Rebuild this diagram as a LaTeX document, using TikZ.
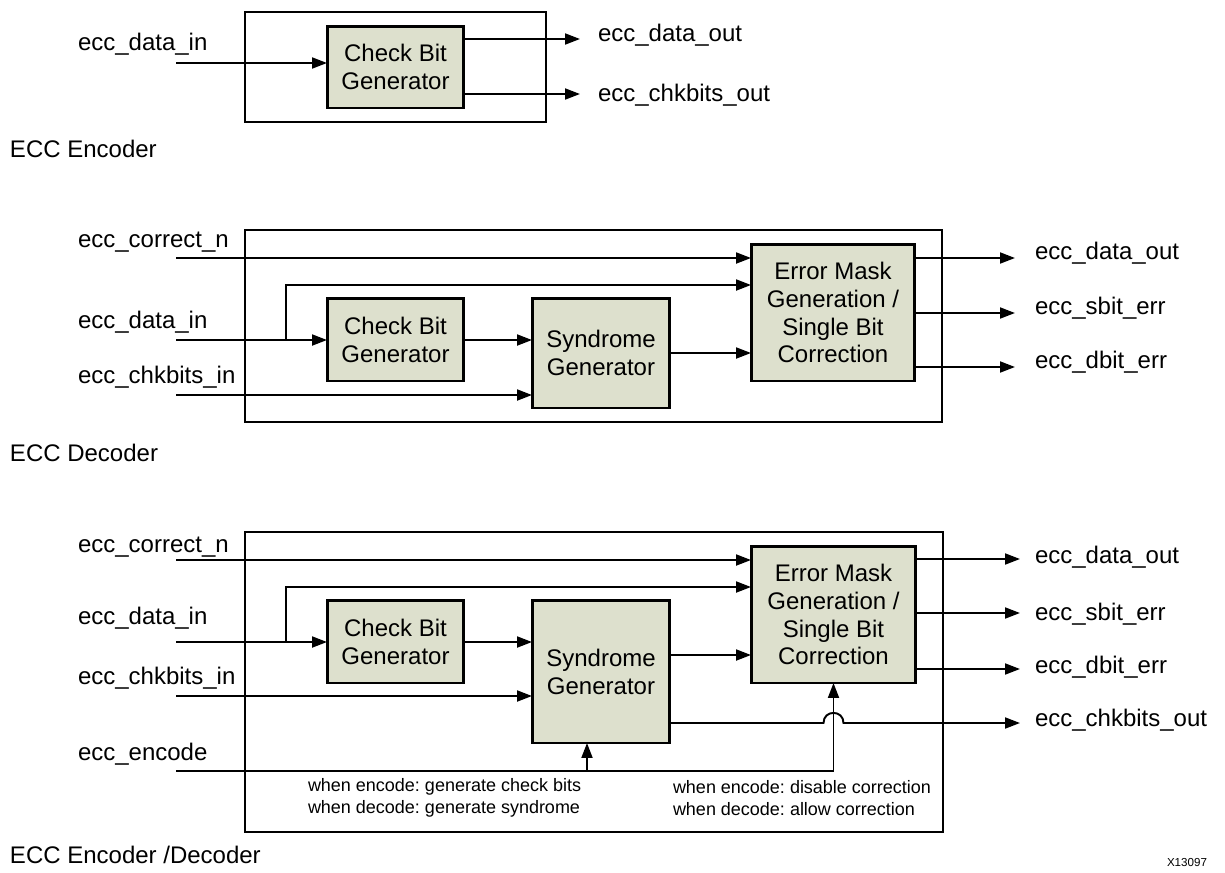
\documentclass[tikz,border=0pt]{standalone}
\usepackage{fontspec}
\setmainfont{Liberation Sans}
\usetikzlibrary{arrows.meta}
\definecolor{blkfill}{RGB}{221,224,205}
\frenchspacing
\begin{document}
\begin{tikzpicture}[x=0.02cm,y=-0.02cm,inner sep=0pt,outer sep=0pt,line width=1.1pt,
>={Triangle[length=0.3cm,width=0.22cm]},
funcblock/.style={draw,rectangle,fill=blkfill,line width=1.7pt,align=center,font=\fontsize{13.66}{15.9}\selectfont},
sig/.style={anchor=west,font=\fontsize{13.66}{15.9}\selectfont},
note/.style={anchor=west,align=left,font=\fontsize{10.24}{12.5}\selectfont}]
\useasboundingbox (0,0) rectangle (1225,873);
% encoder
\draw (245,12) rectangle (546,122);
\draw (395.5,67) node[funcblock,minimum width=2.74cm,minimum height=1.64cm] (cbgA) {Check Bit\\Generator};
\draw (78,44) node[sig] (dinA) {ecc\_data\_in};
\draw (598,35) node[sig] (doutA) {ecc\_data\_out};
\draw (598,95) node[sig] (cboutA) {ecc\_chkbits\_out};
\draw (10,149) node[sig] (capA) {ECC Encoder};
\coordinate (dinAs) at (176,63);
\coordinate (doutAe) at (580,39);
\coordinate (cboutAe) at (580,94);
\draw[->] (dinAs) -- (dinAs -| cbgA.west);
\draw[->] (doutAe -| cbgA.east) -- (doutAe);
\draw[->] (cboutAe -| cbgA.east) -- (cboutAe);
% decoder
\draw (245,230) rectangle (942,422);
\draw (395.5,339.5) node[funcblock,minimum width=2.74cm,minimum height=1.66cm] (cbgB) {Check Bit\\Generator};
\draw (601,353) node[funcblock,minimum width=2.76cm,minimum height=2.2cm] (synB) {Syndrome\\Generator};
\draw (833,312.5) node[funcblock,minimum width=3.28cm,minimum height=2.74cm] (emgB) {Error Mask\\Generation /\\Single Bit\\Correction};
\draw (78,242) node[sig] (corrB) {ecc\_correct\_n};
\draw (78,322) node[sig] (dinB) {ecc\_data\_in};
\draw (78,377) node[sig] (cbinB) {ecc\_chkbits\_in};
\draw (1035,253) node[sig] (doutB) {ecc\_data\_out};
\draw (1035,308) node[sig] (sbitB) {ecc\_sbit\_err};
\draw (1035,362) node[sig] (dbitB) {ecc\_dbit\_err};
\draw (10,453) node[sig] (capB) {ECC Decoder};
\coordinate (corrBs) at (176,258);
\coordinate (dinBs) at (176,340);
\coordinate (brB) at (286,340);
\coordinate (brBt) at (286,285);
\coordinate (cbinBs) at (176,395);
\coordinate (doutBe) at (1015,258);
\coordinate (sbitBe) at (1015,313);
\coordinate (dbitBe) at (1015,367);
\draw[->] (corrBs) -- (corrBs -| emgB.west);
\draw[->] (dinBs) -- (dinBs -| cbgB.west);
\draw[->] (brB) -- (brBt) -- (brBt -| emgB.west);
\draw[->] (cbgB.east |- dinBs) -- (synB.west |- dinBs);
\draw[->] (cbinBs) -- (cbinBs -| synB.west);
\draw[->] (synB.east) -- (synB.east -| emgB.west);
\draw[->] (doutBe -| emgB.east) -- (doutBe);
\draw[->] (sbitBe -| emgB.east) -- (sbitBe);
\draw[->] (dbitBe -| emgB.east) -- (dbitBe);
% encoder / decoder
\draw (245,532) rectangle (943,832);
\draw (395.5,641.5) node[funcblock,minimum width=2.74cm,minimum height=1.66cm] (cbgC) {Check Bit\\Generator};
\draw (601,671.5) node[funcblock,minimum width=2.76cm,minimum height=2.86cm] (synC) {Syndrome\\Generator};
\draw (833.5,614.5) node[funcblock,minimum width=3.3cm,minimum height=2.74cm] (emgC) {Error Mask\\Generation /\\Single Bit\\Correction};
\draw (78,547) node[sig] (corrC) {ecc\_correct\_n};
\draw (78,618) node[sig] (dinC) {ecc\_data\_in};
\draw (78,678) node[sig] (cbinC) {ecc\_chkbits\_in};
\draw (78,754) node[sig] (encC) {ecc\_encode};
\draw (1035,557) node[sig] (doutC) {ecc\_data\_out};
\draw (1035,614) node[sig] (sbitC) {ecc\_sbit\_err};
\draw (1035,667) node[sig] (dbitC) {ecc\_dbit\_err};
\draw (1035,720) node[sig] (cboutC) {ecc\_chkbits\_out};
\draw (308,798) node[note] (noteL) {when encode: generate check bits\\when decode: generate syndrome};
\draw (673,798) node[note] (noteR) {when encode: disable correction\\when decode: allow correction};
\draw (10,855) node[sig] (capC) {ECC Encoder /Decoder};
\draw (1167,862) node[anchor=west,font=\fontsize{6.6}{8}\selectfont] (figid) {X13097};
\coordinate (corrCs) at (176,560);
\coordinate (dinCs) at (176,642);
\coordinate (brC) at (286,642);
\coordinate (brCt) at (286,587);
\coordinate (cbinCs) at (176,696);
\coordinate (encCs) at (176,771);
\coordinate (tapC) at (587,771);
\coordinate (humpC) at (833.5,723);
\coordinate (doutCe) at (1020,559);
\coordinate (sbitCe) at (1020,613);
\coordinate (dbitCe) at (1020,669);
\coordinate (cboutCe) at (1020,723);
\draw[->] (corrCs) -- (corrCs -| emgC.west);
\draw[->] (dinCs) -- (dinCs -| cbgC.west);
\draw[->] (brC) -- (brCt) -- (brCt -| emgC.west);
\draw[->] (cbgC.east |- dinCs) -- (synC.west |- dinCs);
\draw[->] (cbinCs) -- (cbinCs -| synC.west);
\draw[->] (synC.east |- 0,655) -- (emgC.west |- 0,655);
\draw[->] (encCs) -| (emgC.south);
\draw[->] (tapC) -- (tapC |- synC.south);
\draw[->] (synC.east |- humpC) -- ([xshift=-0.2cm]humpC)
  .. controls ([xshift=-0.2cm,yshift=0.27cm]humpC) and ([xshift=0.2cm,yshift=0.27cm]humpC) .. ([xshift=0.2cm]humpC)
  -- (cboutCe);
\draw[->] (doutCe -| emgC.east) -- (doutCe);
\draw[->] (sbitCe -| emgC.east) -- (sbitCe);
\draw[->] (dbitCe -| emgC.east) -- (dbitCe);
\end{tikzpicture}
\end{document}
